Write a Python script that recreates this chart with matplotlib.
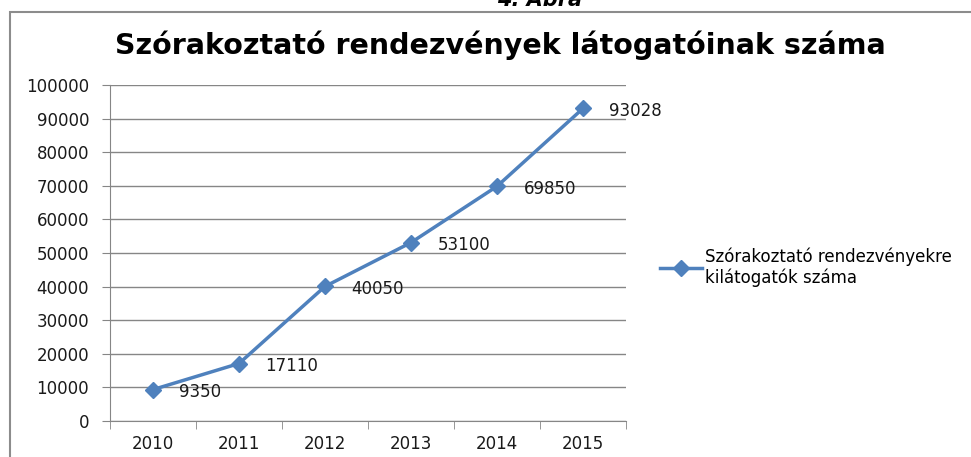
import numpy as np
import matplotlib.pyplot as plt
from matplotlib.patches import Rectangle

years = ["2010", "2011", "2012", "2013", "2014", "2015"]
visitors = [9350, 17110, 40050, 53100, 69850, 93028]
yticks = list(range(0, 100001, 10000))

W, H = 971, 457
fig = plt.figure(figsize=(W / 100, H / 100), dpi=100)

# outer chart frame (cut off at right and bottom like the screenshot)
fig.patches.append(Rectangle((10 / W, -0.05), 1.0, (H - 12) / H + 0.05,
                             transform=fig.transFigure, fill=False,
                             edgecolor="#8c8c8c", linewidth=1.5))
fig.text(540 / W, 1 - 0 / H, "4. Ábra", ha="center", va="center",
         fontsize=15, fontweight="bold", fontstyle="italic")

ax = fig.add_axes([110 / W, 1 - 421 / H, 516 / W, 336 / H])
x = np.arange(len(years))
ax.plot(x, visitors, color="#4F81BD", linewidth=2.5, marker="D",
        markersize=8, label="Szórakoztató rendezvényekre\nkilátogatók száma")
for xi, v in zip(x, visitors):
    ax.annotate(str(v), (xi, v), xytext=(19, -2), textcoords="offset points",
                ha="left", va="center", fontsize=12, color="#1a1a1a")

ax.set_xlim(-0.5, len(years) - 0.5)
ax.set_ylim(0, 100000)
ax.set_yticks(yticks)
ax.set_yticklabels([str(t) for t in yticks])
ax.set_xticks(x)
ax.set_xticklabels(years)
ax.set_xticks(np.arange(-0.5, len(years), 1), minor=True)
ax.tick_params(axis="x", which="major", length=0, labelsize=12, pad=10,
               labelcolor="#1a1a1a")
ax.tick_params(axis="x", which="minor", length=6, color="#868686")
ax.tick_params(axis="y", length=6, color="#868686", labelsize=12, pad=9,
               labelcolor="#1a1a1a")
ax.yaxis.grid(True, color="#868686", linewidth=1)
ax.set_axisbelow(True)
for s in ["top", "right"]:
    ax.spines[s].set_visible(False)
for s in ["left", "bottom"]:
    ax.spines[s].set_color("#868686")

fig.text(500 / W, 1 - 45 / H, "Szórakoztató rendezvények látogatóinak száma",
         ha="center", va="center", fontsize=20.5, fontweight="bold")

ax.legend(loc="upper left", bbox_to_anchor=(652 / W, 1 - 239 / H),
          bbox_transform=fig.transFigure, frameon=False, fontsize=12,
          handlelength=2.5, handletextpad=0.2, borderpad=0)

fig.savefig("out.png", dpi=100)
